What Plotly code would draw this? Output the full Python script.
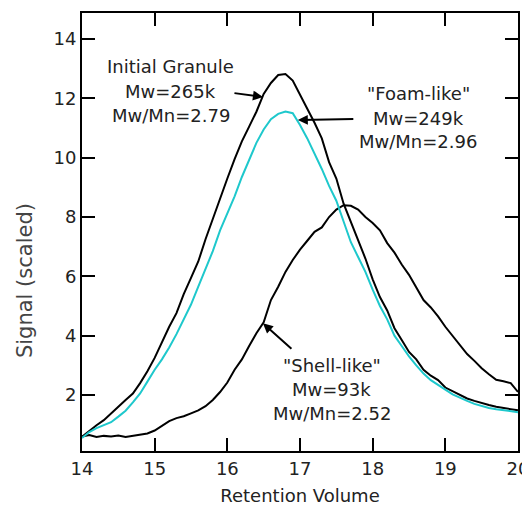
import plotly.graph_objects as go

# Retention volume grid (x values)
retention_volume = [round(14.0 + 0.1 * i, 1) for i in range(61)]

initial_granule = [
    0.59, 0.80, 0.98, 1.15, 1.36, 1.60, 1.83, 2.05, 2.40, 2.80,
    3.25, 3.80, 4.30, 4.76, 5.40, 5.95, 6.50, 7.25, 7.95, 8.60,
    9.30, 9.95, 10.55, 11.05, 11.55, 12.15, 12.52, 12.79, 12.82, 12.60,
    12.10, 11.65, 11.18, 10.65, 9.85, 9.30, 8.45, 7.85, 7.25, 6.60,
    5.90, 5.30, 4.85, 4.25, 3.85, 3.45, 3.20, 2.85, 2.65, 2.50,
    2.25, 2.12, 2.00, 1.88, 1.80, 1.72, 1.66, 1.60, 1.55, 1.52,
    1.48,
]

foam_like = [
    0.55, 0.75, 0.88, 0.97, 1.08, 1.27, 1.47, 1.75, 2.05, 2.45,
    2.85, 3.20, 3.60, 4.05, 4.55, 5.05, 5.65, 6.25, 6.85, 7.55,
    8.10, 8.70, 9.35, 9.95, 10.50, 10.95, 11.30, 11.48, 11.56, 11.50,
    11.10, 10.65, 10.15, 9.62, 9.05, 8.55, 7.85, 7.15, 6.65, 6.15,
    5.55, 5.00, 4.55, 4.00, 3.65, 3.30, 3.00, 2.72, 2.50, 2.35,
    2.18, 2.02, 1.90, 1.80, 1.70, 1.62, 1.56, 1.52, 1.48, 1.45,
    1.42,
]

shell_like = [
    0.60, 0.65, 0.58, 0.62, 0.60, 0.63, 0.58, 0.62, 0.65, 0.70,
    0.80, 0.95, 1.12, 1.22, 1.28, 1.38, 1.48, 1.62, 1.83, 2.10,
    2.42, 2.85, 3.20, 3.65, 4.08, 4.45, 5.20, 5.65, 6.15, 6.55,
    6.90, 7.20, 7.50, 7.65, 8.00, 8.25, 8.40, 8.38, 8.25, 8.00,
    7.80, 7.55, 7.12, 6.80, 6.40, 6.05, 5.60, 5.20, 4.95, 4.65,
    4.30, 4.00, 3.70, 3.38, 3.15, 2.90, 2.70, 2.51, 2.46, 2.40,
    2.10,
]

x_ticks = [14, 15, 16, 17, 18, 19, 20]
y_ticks = [2, 4, 6, 8, 10, 12, 14]

labels = {
    "initial": ["Initial Granule", "Mw=265k", "Mw/Mn=2.79"],
    "foam": ['"Foam-like"', "Mw=249k", "Mw/Mn=2.96"],
    "shell": ['"Shell-like"', "Mw=93k", "Mw/Mn=2.52"],
}

BLACK = "#000000"
CYAN = "#1ec8cc"
TXT = "#222222"
FONT = "DejaVu Sans"

fig = go.Figure()
fig.add_trace(go.Scatter(x=retention_volume, y=initial_granule, mode="lines",
                         line=dict(color=BLACK, width=2), name="Initial Granule"))
fig.add_trace(go.Scatter(x=retention_volume, y=shell_like, mode="lines",
                         line=dict(color=BLACK, width=2), name="Shell-like"))
fig.add_trace(go.Scatter(x=retention_volume, y=foam_like, mode="lines",
                         line=dict(color=CYAN, width=2), name="Foam-like"))

annotations = []

def add_block(lines, xc, ys):
    for t, yv in zip(lines, ys):
        annotations.append(dict(x=xc, y=yv, xref="x", yref="y", text=t,
                                showarrow=False, xanchor="center", yanchor="middle",
                                font=dict(family=FONT, size=18, color=TXT)))

add_block(labels["initial"], 15.22, [13.07, 12.22, 11.41])
add_block(labels["foam"], 18.63, [12.155, 11.335, 10.546])
add_block(labels["shell"], 17.44, [2.99, 2.17, 1.38])

# arrows (tip in data coords, tail offset in px)
for tip_x, tip_y, ax, ay in [(16.49, 12.05, -30, -4), (16.97, 11.27, 57, -1), (16.49, 4.42, 30, 27)]:
    annotations.append(dict(x=tip_x, y=tip_y, xref="x", yref="y", text="",
                            showarrow=True, arrowhead=2, arrowsize=1, arrowwidth=2,
                            arrowcolor=BLACK, ax=ax, ay=ay, standoff=0))

annotations.append(dict(x=-0.131, y=0.39, xref="paper", yref="paper",
                        text="Signal (scaled)", textangle=-90, showarrow=False,
                        xanchor="center", yanchor="middle",
                        font=dict(family=FONT, size=21, color="#444444")))

axis_common = dict(showline=True, linecolor=BLACK, linewidth=2, mirror="ticks",
                   ticks="inside", ticklen=13, tickwidth=2, tickcolor=BLACK,
                   showgrid=False, zeroline=False, automargin=False,
                   tickfont=dict(family=FONT, size=18, color=TXT))

# page body has an 8px margin: figure sized to fill the rest of the 530x506 window
fig.update_layout(
    width=522, height=498,
    margin=dict(l=74, r=12, t=5, b=55, autoexpand=False),
    paper_bgcolor="white", plot_bgcolor="white",
    showlegend=False,
    xaxis=dict(range=[14, 20], tickvals=x_ticks,
               title=dict(text="Retention Volume", font=dict(family=FONT, size=18, color=TXT), standoff=14),
               **axis_common),
    yaxis=dict(range=[0.11, 14.88], tickvals=y_ticks, **axis_common),
    annotations=annotations,
)

fig.write_html("out.html")
